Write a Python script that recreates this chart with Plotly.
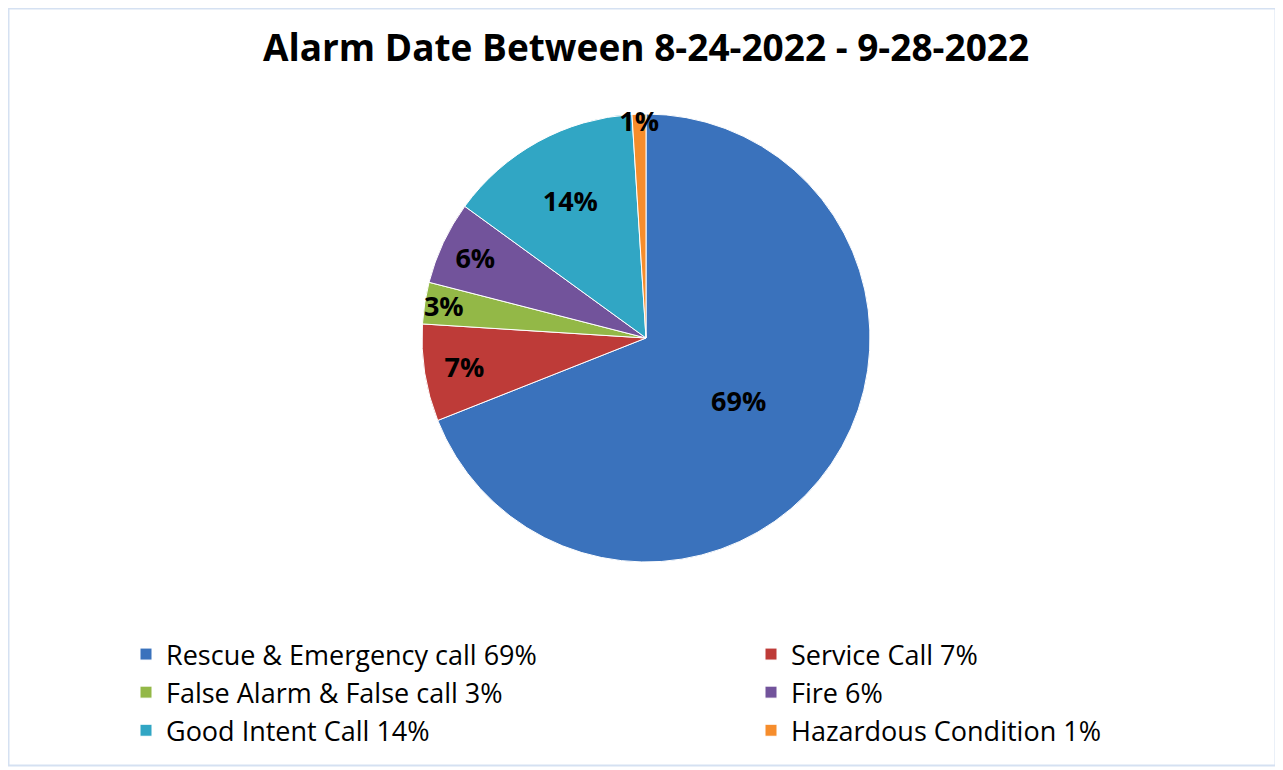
import plotly.graph_objects as go

categories = ["Rescue & Emergency call 69%", "Service Call 7%", "False Alarm & False call 3%",
              "Fire 6%", "Good Intent Call 14%", "Hazardous Condition 1%"]
values = [69, 7, 3, 6, 14, 1]
colors = ["#3A72BC", "#BE3B38", "#93B847", "#72539B", "#31A6C4", "#F68D2C"]

# page has an 8px body margin; lay out in figure coordinates
W, H = 1275, 762
cx, cy, r = 638, 330, 224

fig = go.Figure(go.Pie(
    labels=categories, values=values, sort=False, direction="clockwise", rotation=0,
    marker=dict(colors=colors, line=dict(color="white", width=1)),
    texttemplate="%{percent:.0%}", textposition="inside", insidetextorientation="horizontal",
    textfont=dict(family="Open Sans", size=27, color="black", weight="bold"),
    domain=dict(x=[(cx - r) / W, (cx + r) / W], y=[1 - (cy + r) / H, 1 - (cy - r) / H]),
    hoverinfo="label+value",
))

fig.update_layout(
    width=W, height=H,
    margin=dict(l=0, r=0, t=0, b=0, autoexpand=False),
    paper_bgcolor="white", plot_bgcolor="white",
    title=dict(text="<b>Alarm Date Between 8-24-2022 - 9-28-2022</b>", x=638 / W, xanchor="center",
               y=1 - 40 / H, yanchor="middle", yref="container",
               font=dict(family="Open Sans", size=37, color="black")),
    uniformtext=dict(minsize=27, mode="show"),
    showlegend=True,
    legend=dict(orientation="h", x=118 / W, xanchor="left", y=1 - 622 / H, yanchor="top",
                entrywidth=580, entrywidthmode="pixels", traceorder="normal",
                font=dict(family="Open Sans", size=27, color="black"),
                bgcolor="rgba(0,0,0,0)", itemclick=False),
    shapes=[dict(type="rect", xref="paper", yref="paper", x0=0.5 / W, x1=1267.5 / W,
                 y0=1 - 757.5 / H, y1=1 - 0.5 / H, line=dict(color="#D5E1F2", width=2),
                 fillcolor="rgba(0,0,0,0)", layer="below")],
)

fig.write_html("out.html")
